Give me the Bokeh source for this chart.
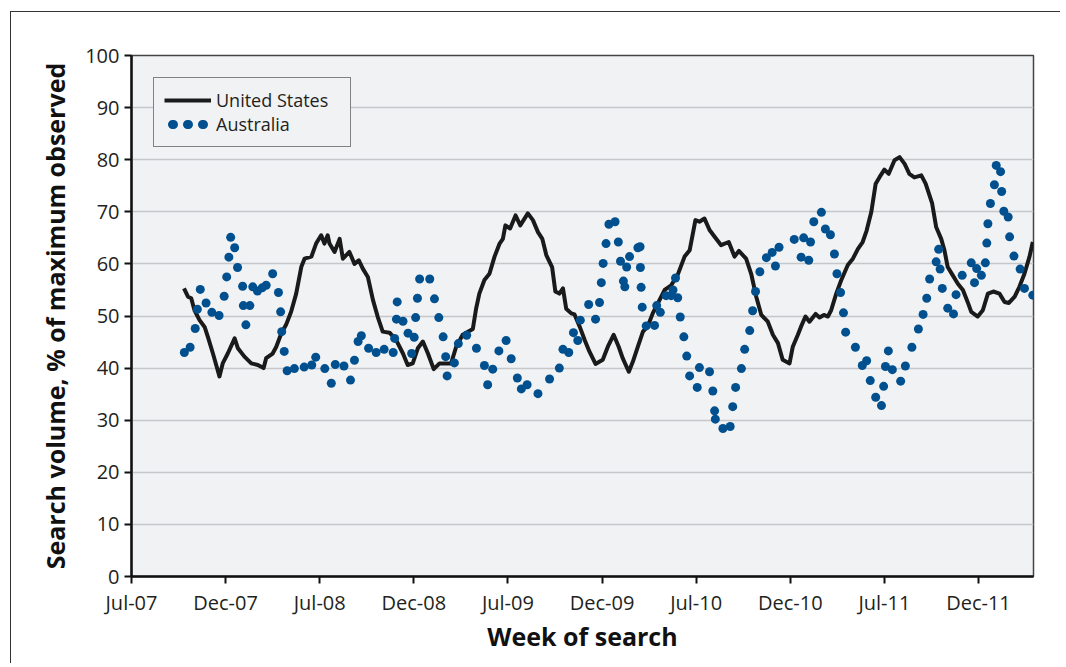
from bokeh.plotting import figure
from bokeh.models import Range1d, FixedTicker, Legend, LegendItem
from bokeh.embed import file_html
from bokeh.resources import INLINE

# ---- data (x = weeks since early Jul-2007; y = % of maximum observed) ----
tick_labels = ["Jul-07", "Dec-07", "Jul-08", "Dec-08", "Jul-09",
               "Dec-09", "Jul-10", "Dec-10", "Jul-11", "Dec-11"]
tick_weeks = [0, 26, 52, 78, 104, 130, 156, 182, 208, 234]

us_week = [14.5, 15.6, 16.5, 17.4, 18.8, 20.2, 21.1, 22.5, 24.3, 25.2, 26.6, 28.5, 29.4, 31.2,
           33.1, 34.9, 36.5, 37.2, 39.0, 40.0, 41.4, 42.7, 44.1, 45.5, 46.9, 47.8, 49.7, 51.0,
           52.4, 53.3, 54.2, 54.7, 56.1, 57.5, 58.4, 60.2, 61.6, 62.8, 63.9, 65.3, 66.7, 68.0,
           69.4, 71.3, 73.1, 75.0, 76.3, 77.7, 79.1, 80.5, 81.9, 83.5, 85.1, 86.9, 88.3, 89.7,
           91.5, 94.3, 95.2, 96.1, 97.5, 98.9, 100.3, 101.7, 102.6, 103.3, 104.6, 106.1, 107.4,
           109.5, 110.9, 112.3, 113.5, 114.6, 116.2, 117.1, 118.2, 119.2, 120.1, 121.5, 122.4,
           123.8, 125.2, 126.5, 128.2, 130.2, 131.6, 133.2, 134.6, 135.7, 137.4, 138.5, 139.9,
           141.3, 142.6, 144.0, 145.4, 147.3, 149.1, 150.9, 152.8, 154.2, 155.8, 156.9, 158.3,
           159.7, 161.1, 162.9, 165.0, 166.6, 167.8, 169.8, 171.2, 172.6, 174.0, 175.8, 177.2,
           178.6, 179.9, 181.8, 182.7, 184.1, 185.0, 186.2, 187.3, 189.0, 190.1, 191.3, 192.4,
           193.3, 194.7, 196.1, 197.9, 199.3, 200.7, 202.0, 203.1, 204.4, 205.6, 206.7, 208.0,
           209.2, 210.8, 212.2, 213.6, 214.9, 216.3, 218.2, 219.4, 221.2, 222.3, 223.7, 224.6,
           225.5, 226.9, 228.3, 229.7, 231.0, 232.0, 233.8, 235.2, 236.6, 238.1, 239.8, 241.2,
           242.4, 244.0, 245.3, 246.7, 248.1, 249.0]
us_value = [55.3, 53.7, 53.4, 51.1, 49.2, 47.9, 46.0, 42.8, 38.4, 40.9, 42.8, 45.7, 43.8, 42.2,
            40.9, 40.6, 40.0, 41.9, 42.8, 44.1, 46.7, 48.3, 50.8, 54.3, 59.4, 61.0, 61.4, 63.9,
            65.5, 63.9, 65.5, 63.9, 62.3, 64.8, 61.0, 62.3, 60.0, 60.7, 59.1, 57.5, 53.1, 49.9,
            47.0, 46.8, 45.4, 42.8, 40.6, 40.9, 43.8, 45.1, 42.8, 39.8, 40.9, 40.9, 40.9, 44.1,
            46.4, 47.5, 51.4, 54.3, 56.9, 58.1, 61.4, 63.9, 64.8, 67.4, 66.8, 69.3, 67.4,
            69.7, 68.4, 66.1, 64.8, 61.7, 59.4, 54.7, 54.3, 55.3, 51.4, 50.5, 50.3,
            48.0, 45.4, 43.2, 40.8, 41.6, 44.1, 46.4, 44.1, 41.9, 39.3, 41.2, 44.1,
            47.0, 48.0, 50.5, 52.4, 55.0, 55.9, 57.9, 61.4, 62.6, 68.4, 68.1, 68.7,
            66.5, 65.2, 63.6, 64.2, 61.4, 62.5, 61.0, 58.1, 53.7, 50.2, 48.9, 46.4,
            44.8, 41.6, 40.9, 44.1, 46.4, 48.0, 49.9, 48.9, 50.4, 49.7, 50.2, 49.9,
            51.1, 54.3, 56.9, 59.8, 61.0, 62.9, 64.2, 66.4, 70.0, 75.4, 76.7, 78.1,
            77.3, 79.9, 80.5, 79.2, 77.3, 76.6, 77.0, 75.4, 71.6, 67.1, 64.8, 62.6,
            59.4, 57.8, 56.2, 55.0, 52.7, 50.8, 49.9, 51.1, 54.3, 54.7, 54.3, 52.7,
            52.5, 53.7, 55.6, 58.1, 61.4, 64.2]

au_week = [14.6, 16.2, 17.6, 18.2, 19.0, 20.6, 22.2, 24.2, 25.6, 26.3, 26.9, 27.4, 28.5, 29.3,
           30.7, 30.9, 31.6, 32.7, 33.5, 34.8, 36.1, 37.2, 39.0, 40.6, 41.2, 41.5, 42.2, 43.0,
           45.0, 47.7, 49.8, 50.9, 53.4, 55.2, 56.3, 58.7, 60.5, 61.6, 62.6, 63.5, 65.5, 67.6,
           69.8, 72.3, 72.7, 73.2, 73.4, 75.0, 76.4, 77.4, 78.1, 78.5, 79.0, 79.6, 82.4, 83.7,
           84.9, 86.1, 86.8, 87.2, 89.2, 90.3, 92.6, 95.3, 97.5, 98.4, 99.8, 101.5, 103.5, 104.9,
           106.6, 107.7, 109.3, 112.3, 115.5, 118.2, 119.2, 120.8, 122.1, 123.3, 124.0, 126.3,
           128.2, 129.3, 129.8, 130.3, 131.1, 131.9, 133.6, 134.5, 135.1, 135.9, 136.3, 136.8,
           137.6, 139.9, 140.5, 140.6, 140.8, 141.1, 142.2, 144.5, 145.1, 146.1, 147.7, 149.1,
           149.6, 150.3, 150.9, 151.6, 152.6, 153.4, 154.2, 156.3, 156.9, 159.7, 160.6, 161.1,
           161.3, 163.4, 165.4, 166.1, 166.9, 168.5, 169.4, 170.8, 171.6, 172.4, 173.6, 175.4,
           177.0, 177.9, 178.9, 183.1, 185.0, 185.7, 187.1, 187.6, 188.5, 190.6, 191.7, 193.1,
           194.2, 194.9, 195.9, 196.7, 197.3, 200.0, 201.9, 203.1, 204.1, 205.6, 207.2, 207.8,
           208.3, 209.1, 210.2, 212.5, 213.8, 215.6, 217.4, 218.7, 219.7, 220.5, 222.3, 223.0,
           223.4, 224.0, 225.5, 227.1, 227.8, 229.5, 232.0, 232.9, 233.5, 234.8, 235.9, 236.3,
           236.6, 237.3, 238.4, 238.9, 240.1, 240.4, 241.0, 242.2, 242.6, 243.8, 245.5, 246.7,
           249.0]
au_value = [43.0, 44.0, 47.6, 51.3, 55.1, 52.5, 50.7, 50.1, 53.8, 57.5, 61.3, 65.1, 63.1, 59.3,
            55.7, 52.0, 48.3, 52.0, 55.6, 54.8, 55.4, 55.9, 58.1, 54.5, 50.8, 47.0, 43.2, 39.5,
            39.9, 40.2, 40.6, 42.1, 39.9, 37.1, 40.7, 40.4, 37.7, 41.5, 45.1, 46.2, 43.8, 43.0,
            43.6, 43.0, 45.7, 49.4, 52.7, 49.0, 46.7, 42.8, 45.9, 49.7, 53.4, 57.1, 57.1, 53.3,
            49.7, 46.0, 42.2, 38.5, 41.0, 44.7, 46.3, 43.8, 40.5, 36.8, 39.8, 43.3, 45.3, 41.8,
            38.1, 36.0, 36.8, 35.1, 37.9, 40.0, 43.6, 43.0, 46.8, 45.3, 49.2, 52.2,
            49.4, 52.6, 56.4, 60.1, 63.9, 67.6, 68.1, 64.2, 60.5, 56.7, 55.6, 59.4,
            61.4, 63.1, 63.3, 59.3, 55.5, 51.7, 48.1, 48.2, 52.0, 50.7, 53.9, 53.9,
            55.0, 57.3, 53.5, 49.8, 46.0, 42.3, 38.5, 36.3, 40.1, 39.3, 35.6, 31.8,
            30.2, 28.4, 28.8, 32.6, 36.3, 39.9, 43.6, 47.2, 51.0, 54.7, 58.5, 61.2,
            62.2, 59.6, 63.2, 64.7, 61.3, 65.0, 60.7, 64.2, 68.1, 69.9, 66.7, 65.6,
            61.9, 58.1, 54.5, 50.6, 46.9, 44.0, 40.5, 41.4, 37.6, 34.4, 32.8, 36.5,
            40.3, 43.3, 39.7, 37.5, 40.4, 44.0, 47.5, 50.3, 53.4, 57.1, 60.4, 62.8,
            59.0, 55.3, 51.5, 50.4, 54.1, 57.8, 60.2, 56.4, 59.1, 57.8, 60.2, 64.0,
            67.7, 71.6, 75.2, 78.9, 77.7, 73.9, 70.1, 69.0, 65.2, 61.5, 59.0, 55.3,
            54.0]

series_names = ["United States", "Australia"]
x_title = "Week of search"
y_title = "Search volume, % of maximum observed"

# ---- styling ----
FONT = "Open Sans"
TXT = "#231f20"
BLUE = "#00508f"
BG = "#f1f2f4"

p = figure(width=1050, height=652, output_backend="svg", toolbar_location=None,
           x_range=Range1d(0, 249.2), y_range=Range1d(0, 100),
           min_border_left=120, min_border_right=28, min_border_top=43, min_border_bottom=88)
p.background_fill_color = BG
p.border_fill_color = "white"
p.outline_line_color = "#444444"
p.outline_line_width = 1.5
p.styles = {"margin-left": "10px", "margin-top": "11px",
            "border-left": "1.5px solid #333333", "border-top": "1.5px solid #333333"}

us = p.line(us_week, us_value, line_color="#1a1a1a", line_width=4, line_join="round")
au = p.scatter(au_week, au_value, size=9, fill_color=BLUE, line_color=None)
# legend-only renderer: a dotted stroke that shows as a row of round dots
au_legend = p.line(x=[float("nan")], y=[float("nan")], line_color=BLUE, line_width=9,
                   line_dash="1 14", line_cap="round", line_dash_offset=7)

# axes
p.xaxis.ticker = FixedTicker(ticks=tick_weeks)
p.xaxis.major_label_overrides = {t: lab for t, lab in zip(tick_weeks, tick_labels)}
p.yaxis.ticker = FixedTicker(ticks=list(range(0, 101, 10)))
for ax in (p.xaxis[0], p.yaxis[0]):
    ax.axis_line_color = "#111111"
    ax.axis_line_width = 2.5
    ax.major_tick_line_color = "#111111"
    ax.major_tick_line_width = 2
    ax.major_tick_out = 7
    ax.major_tick_in = 0
    ax.minor_tick_line_color = None
    ax.major_label_text_font = FONT
    ax.major_label_text_font_size = "20px"
    ax.major_label_text_color = TXT
    ax.axis_label_text_font = FONT
    ax.axis_label_text_font_size = "25px"
    ax.axis_label_text_font_style = "bold"
    ax.axis_label_text_color = "#111111"
p.xaxis.axis_label = x_title
p.yaxis.axis_label = y_title
p.xaxis.major_label_standoff = 5
p.xaxis.axis_label_standoff = 0
p.yaxis.major_label_standoff = 5
p.yaxis.axis_label_standoff = 10

p.xgrid.grid_line_color = None
p.ygrid.grid_line_color = "#c6c7c9"
p.ygrid.grid_line_width = 1.5

legend = Legend(items=[LegendItem(label=series_names[0], renderers=[us]),
                       LegendItem(label=series_names[1], renderers=[au_legend])],
                location="top_left", margin=22, padding=10, spacing=0,
                glyph_width=47, glyph_height=20, label_standoff=5, label_width=124,
                label_text_font=FONT, label_text_font_size="18px", label_text_color=TXT,
                border_line_color="#111111", border_line_width=1.5,
                background_fill_color=BG, background_fill_alpha=1.0)
p.add_layout(legend)

open("out.html", "w").write(file_html(p, INLINE))
